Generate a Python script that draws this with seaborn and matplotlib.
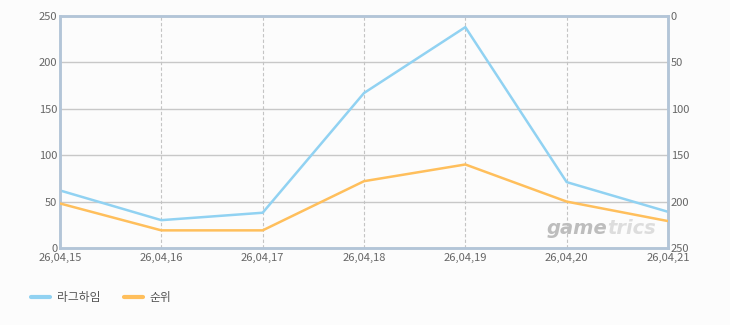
import matplotlib
matplotlib.use("Agg")
import matplotlib.pyplot as plt
import seaborn as sns
import pandas as pd
from matplotlib.lines import Line2D

dates = ["26,04,15", "26,04,16", "26,04,17", "26,04,18", "26,04,19", "26,04,20", "26,04,21"]
series_names = ["라그하임", "순위"]
value_series = [62, 30, 38, 167, 238, 71, 39]
rank_series = [202, 231, 231, 178, 160, 200, 221]
left_ticks = [0, 50, 100, 150, 200, 250]
right_ticks = [0, 50, 100, 150, 200, 250]

blue = "#91d2f2"
orange = "#ffbf5c"
tick_color = "#666666"
spine_color = "#b3c5d8"

sns.set_theme(style="white")
plt.rcParams['font.family'] = ['Noto Sans CJK KR', 'DejaVu Sans']

df = pd.DataFrame({"date": dates, "value": value_series, "rank": rank_series})
df["x"] = range(len(dates))

fig = plt.figure(figsize=(7.3, 3.25), dpi=100)
fig.patch.set_facecolor("#fcfcfc")
ax = fig.add_axes([60/730, 1 - 248/325, 608/730, 232/325])
ax.set_facecolor("#fcfcfc")

sns.lineplot(data=df, x="x", y="value", ax=ax, color=blue, linewidth=1.8, zorder=5)
ax.set_xlim(0, len(dates) - 1)
ax.set_ylim(0, 250)
ax.set_yticks(left_ticks)
ax.set_xticks(df["x"])
ax.set_xticklabels(dates)
ax.set_xlabel("")
ax.set_ylabel("")

for t in left_ticks[1:-1]:
    ax.axhline(t, color="#c8c8c8", linewidth=1, zorder=1)
for xv in df["x"][1:-1]:
    ax.axvline(xv, color="#c4c4c4", linewidth=0.8, linestyle=(0, (3, 2)), zorder=1)

ax2 = ax.twinx()
sns.lineplot(data=df, x="x", y="rank", ax=ax2, color=orange, linewidth=1.8, zorder=5)
ax2.set_ylim(250, 0)
ax2.set_yticks(right_ticks)
ax2.set_ylabel("")
ax2.set_xlim(0, len(dates) - 1)

for a in (ax, ax2):
    for s in a.spines.values():
        s.set_color(spine_color)
        s.set_linewidth(1.8)
    a.tick_params(axis="both", colors=tick_color, labelsize=8, length=0, pad=1)
    for lab in a.get_xticklabels() + a.get_yticklabels():
        lab.set_color(tick_color)

ax.tick_params(axis="x", pad=3.5)
ax.tick_params(axis="y", pad=2)
ax2.tick_params(axis="y", pad=2)

# watermark
ax.text(0.9, 0.086, "game", transform=ax.transAxes, fontsize=14, fontstyle="italic",
        fontweight="bold", color="#bdbdbd", ha="right", va="center", family="DejaVu Sans", zorder=2)
ax.text(0.9, 0.086, "trics", transform=ax.transAxes, fontsize=14, fontstyle="italic",
        fontweight="bold", color="#dddddd", ha="left", va="center", family="DejaVu Sans", zorder=2)

handles = [Line2D([0], [0], color=blue, linewidth=3), Line2D([0], [0], color=orange, linewidth=3)]
fig.legend(handles, series_names, loc="lower left", bbox_to_anchor=(20/730, 10/325), ncol=2,
           frameon=False, fontsize=8.5, handlelength=1.6, columnspacing=2.0, handletextpad=0.6,
           labelcolor="#555555")

fig.savefig("out.png", dpi=100, facecolor=fig.get_facecolor())
